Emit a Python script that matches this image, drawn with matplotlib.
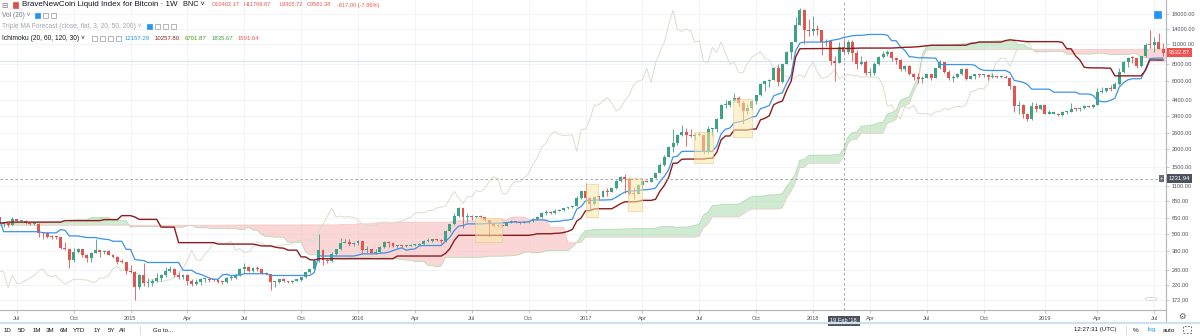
import numpy as np
import pandas as pd
import matplotlib
matplotlib.use("Agg")
import matplotlib.pyplot as plt
import matplotlib.dates as mdates
import matplotlib.transforms as mtransforms
from matplotlib.patches import Rectangle, Circle

plt.rcParams['font.family'] = ['Liberation Sans', 'DejaVu Sans']

# ------------------------------------------------------------------ data
first_week = "2014-06-09"   # weekly candles, Monday starts

opens = [
    655, 590, 595, 580, 635, 620, 620, 595, 585, 590, 510, 505, 480, 478, 475, 400, 390, 330, 375, 390, 355, 340, 370, 385, 375, 378, 355, 345, 320, 318,
    275, 270, 210, 255, 225, 225, 235, 245, 255, 275, 285, 255, 250, 255, 235, 222, 230, 240, 240, 238, 237, 230, 228, 245, 245, 255, 285, 295, 275, 290, 282, 265, 260, 230, 230, 240, 232, 230, 235, 238, 248, 268, 285, 325, 385, 330, 325, 360, 390, 435, 440, 425,
    432, 445, 385, 395, 370, 375, 405, 440, 432, 410, 415, 410, 415, 420, 420, 428, 450, 450, 458, 455, 445, 525, 585, 670, 760, 660, 670, 660, 665, 655, 625, 590, 570, 580, 572, 605, 610, 605, 600, 610, 615, 640, 655, 700, 712, 705, 730, 735, 765, 775, 790, 895,
    1000, 905, 820, 920, 915, 1015, 995, 1050, 1180, 1270, 1230, 965, 960, 1105, 1180, 1170, 1245, 1350, 1550, 1750, 2050, 2200, 2520, 2650, 2520, 2480, 2500, 2510, 1920, 2750, 2750, 3250, 4050, 4100, 4350, 4600, 4200, 3700, 3900, 4380, 4780, 5700, 6000, 6150, 7400, 5900, 8000, 9700, 11300, 15000, 19000, 13900,
    13500, 14000, 13700, 11300, 11600, 8300, 8100, 10402.17, 9581, 11400, 9500, 7900, 8200, 6900, 6900, 8000, 8900, 9300, 9700, 8700, 8500, 7350, 7700, 6770, 6450, 6200, 6350, 6700, 6350, 7400, 8200, 7000, 6300, 6400, 6700, 7300, 6250, 6500, 6700, 6600, 6600, 6400, 6450, 6400, 6450, 6350, 5600, 4000, 4100, 3550, 3250, 4000, 3850,
    4050, 3550, 3550, 3550, 3450, 3650, 3650, 3850, 3800, 3900, 4000, 3950, 4100, 5050, 5150, 5350, 5300, 5700, 7000, 8200, 8750, 8700, 7650, 8990, 10850, 10800, 11450, 10200,
]
highs = [
    668, 610, 600, 655, 640, 630, 625, 600, 595, 600, 520, 520, 490, 485, 480, 440, 395, 400, 400, 395, 360, 375, 460, 385, 385, 385, 360, 350, 335, 320,
    300, 275, 260, 310, 245, 240, 265, 260, 295, 298, 290, 270, 260, 260, 240, 240, 245, 245, 245, 242, 240, 232, 250, 255, 260, 290, 310, 298, 295, 298, 285, 270, 262, 235, 240, 245, 235, 238, 242, 250, 270, 285, 335, 500, 390, 335, 375, 395, 470, 465, 460, 440,
    455, 450, 410, 395, 390, 410, 445, 445, 440, 420, 420, 420, 425, 425, 430, 455, 470, 465, 460, 460, 530, 590, 700, 780, 770, 700, 685, 675, 680, 660, 630, 600, 585, 585, 610, 630, 612, 610, 615, 620, 645, 660, 720, 740, 730, 750, 750, 770, 775, 795, 935, 1000,
    1150, 920, 925, 930, 1030, 1060, 1060, 1210, 1280, 1330, 1260, 1080, 1120, 1210, 1210, 1250, 1360, 1600, 1800, 2100, 2750, 2550, 2950, 2800, 2780, 2600, 2650, 2550, 2900, 2800, 3300, 4150, 4450, 4400, 4950, 4700, 4350, 4150, 4400, 4800, 5850, 6000, 6250, 7600, 7900, 8100, 9800, 11400, 17100, 19700, 19400, 16500,
    17200, 15000, 13800, 11900, 11800, 9000, 11300, 11769.87, 11700, 11700, 9900, 9100, 8500, 7500, 8200, 9000, 9750, 9950, 9750, 8900, 8550, 7800, 7800, 6900, 6850, 6500, 6800, 6800, 7500, 8500, 8250, 7150, 6600, 6850, 7400, 7400, 6600, 6800, 6800, 6750, 6700, 6900, 6500, 6500, 6600, 6400, 5650, 4350, 4150, 3600, 4250, 4200, 4100,
    4100, 3750, 3650, 3600, 3700, 3700, 4200, 3900, 3950, 4050, 4100, 4150, 5350, 5450, 5400, 5650, 5900, 7500, 8350, 8900, 9100, 8800, 9000, 11200, 13800, 12300, 13150, 11100,
]
lows = [
    560, 560, 560, 580, 610, 605, 585, 575, 575, 480, 460, 470, 465, 465, 395, 385, 290, 320, 370, 345, 315, 320, 365, 345, 360, 355, 340, 305, 310, 260,
    265, 170, 205, 215, 210, 215, 230, 235, 250, 270, 250, 240, 240, 220, 215, 218, 220, 230, 230, 232, 225, 222, 225, 238, 240, 252, 265, 270, 272, 275, 260, 255, 200, 210, 225, 228, 225, 225, 232, 235, 245, 265, 283, 320, 300, 310, 315, 355, 385, 430, 415, 415,
    420, 360, 365, 365, 360, 370, 400, 405, 405, 400, 405, 405, 410, 415, 418, 425, 440, 440, 445, 435, 440, 515, 575, 660, 550, 610, 630, 645, 650, 620, 480, 565, 565, 565, 570, 600, 600, 590, 595, 600, 610, 625, 650, 680, 690, 695, 725, 725, 755, 770, 785, 890,
    850, 750, 800, 880, 915, 930, 990, 1045, 1160, 980, 950, 890, 955, 1050, 1160, 1165, 1240, 1340, 1520, 1740, 1900, 2120, 2450, 2100, 2440, 2300, 2480, 1850, 1880, 2450, 2650, 3250, 3900, 3980, 4250, 4000, 3000, 3550, 3850, 4150, 4750, 5100, 5450, 6100, 5600, 5800, 7900, 8600, 11300, 14900, 11000, 12500,
    12800, 12800, 9200, 10600, 7800, 6000, 8100, 9305.72, 9400, 8400, 7300, 7800, 6600, 6550, 6650, 7850, 8700, 9050, 8350, 7950, 7100, 7050, 6650, 6150, 5800, 5800, 6300, 6100, 6300, 7350, 6900, 6100, 5900, 6300, 6650, 6150, 6200, 6200, 6400, 6450, 6150, 6350, 6350, 6300, 6300, 5300, 3650, 3500, 3300, 3150, 3200, 3650, 3750,
    3500, 3500, 3500, 3400, 3400, 3550, 3650, 3700, 3700, 3850, 3950, 3900, 4100, 4950, 5000, 5100, 5250, 5650, 6900, 7600, 8100, 7450, 7550, 8950, 10300, 9700, 10100, 9100,
]
closes = [
    590, 595, 580, 635, 620, 620, 595, 585, 590, 510, 505, 480, 478, 475, 400, 390, 330, 375, 390, 355, 340, 370, 385, 375, 378, 355, 345, 320, 318, 275,
    270, 210, 255, 225, 225, 235, 245, 255, 275, 285, 255, 250, 255, 235, 222, 230, 240, 240, 238, 237, 230, 228, 245, 245, 255, 285, 295, 275, 290, 282, 265, 260, 230, 230, 240, 232, 230, 235, 238, 248, 268, 285, 325, 385, 330, 325, 360, 390, 435, 440, 425, 432,
    445, 385, 395, 370, 375, 405, 440, 432, 410, 415, 410, 415, 420, 420, 428, 450, 450, 458, 455, 445, 525, 585, 670, 760, 660, 670, 660, 665, 655, 625, 590, 570, 580, 572, 605, 610, 605, 600, 610, 615, 640, 655, 700, 712, 705, 730, 735, 765, 775, 790, 895, 1000,
    905, 820, 920, 915, 1015, 995, 1050, 1180, 1270, 1230, 965, 960, 1105, 1180, 1170, 1245, 1350, 1550, 1750, 2050, 2200, 2520, 2650, 2520, 2480, 2500, 2510, 1920, 2750, 2750, 3250, 4050, 4100, 4350, 4600, 4200, 3700, 3900, 4380, 4780, 5700, 6000, 6150, 7400, 5900, 8000, 9700, 11300, 15000, 19000, 13900, 13500,
    14000, 13700, 11300, 11600, 8300, 8100, 10398.38, 9581.38, 11400, 9500, 7900, 8200, 6900, 6900, 8000, 8900, 9300, 9700, 8700, 8500, 7350, 7700, 6770, 6450, 6200, 6350, 6700, 6350, 7400, 8200, 7000, 6300, 6400, 6700, 7300, 6250, 6500, 6700, 6600, 6600, 6400, 6450, 6400, 6450, 6350, 5600, 4000, 4100, 3550, 3250, 4000, 3850, 4050,
    3550, 3550, 3550, 3450, 3650, 3650, 3850, 3800, 3900, 4000, 3950, 4100, 5050, 5150, 5350, 5300, 5700, 7000, 8200, 8750, 8700, 7650, 8990, 10850, 10800, 11450, 10200, 9532.87,
]

# monthly high / low before the visible window (only feeds the Ichimoku look-back)
pre_first_month = "2011-07"
pre_high = [15.7, 13.8, 8.9, 5.2, 3.5, 4.9,
            7.3, 6.5, 5.5, 5.3, 5.2, 6.7, 9.3, 16.0, 12.7, 12.7, 12.9, 13.8,
            21.0, 31.5, 95, 266, 140, 130, 110, 130, 140, 210, 1150, 1100,
            950, 700, 700, 540, 630, 680]
pre_low = [12.5, 7.2, 4.5, 2.3, 2.0, 2.8,
           4.2, 4.3, 4.6, 4.7, 4.9, 5.2, 6.4, 7.8, 10.0, 10.5, 10.5, 12.3,
           13.0, 19.5, 33, 50, 80, 88, 65, 95, 95, 115, 200, 450,
           750, 420, 440, 340, 430, 640]

ichimoku_params = (20, 60, 120, 30)
price_ticks = [18000, 14000, 11000, 8000, 6000, 4400, 3400, 2600, 2000, 1500,
               1100, 850, 650, 500, 380, 280, 220, 172]
# drawn highlight rectangles: (start date, end date, low price, high price)
box_start = ["2016-07-09", "2017-01-03", "2017-03-11", "2017-06-25", "2017-08-26"]
box_end = ["2016-08-21", "2017-01-22", "2017-04-02", "2017-07-25", "2017-09-25"]
box_low = [440, 660, 725, 1588, 2424]
box_high = [649, 1129, 1240, 2628, 4497]
hline_price = 8400
cross_date = "2018-02-19"
cross_price = 1231.94
last_price = 9532.87

# ------------------------------------------------------------------ figure
W, H = 1200, 336
fig = plt.figure(figsize=(W / 100, H / 100), dpi=100)
fig.patch.set_facecolor('white')

PLOT_R, PLOT_B = 1166, 310
ax = fig.add_axes([0, 1 - PLOT_B / H, PLOT_R / W, PLOT_B / H])
ax.set_facecolor('white')
ax.set_yscale('log')
ax.set_ylim(145.5, 22490)
px_per_day = 0.625
x0 = mdates.date2num(pd.Timestamp('2015-01-01')) - 128 / px_per_day
ax.set_xlim(x0, x0 + PLOT_R / px_per_day)

dates = pd.date_range(first_week, periods=len(closes), freq='W-MON')
o = np.array(opens, float); h = np.array(highs, float)
l = np.array(lows, float); c = np.array(closes, float)

# Ichimoku
conv_len, base_len, spanb_len, disp = ichimoku_params
pre_months = pd.period_range(pre_first_month, periods=len(pre_high), freq='M')
pre_weeks = pd.date_range(pre_months[0].start_time, dates[0] - pd.Timedelta(days=1), freq='W-MON')
midx = {p: i for i, p in enumerate(pre_months)}
pre_h = [pre_high[midx[d.to_period('M')]] for d in pre_weeks]
pre_l = [pre_low[midx[d.to_period('M')]] for d in pre_weeks]
all_dates = pre_weeks.append(dates)
hi = pd.Series(pre_h + list(h))
lo = pd.Series(pre_l + list(l))
def donchian(n):
    return (hi.rolling(n).max() + lo.rolling(n).min()) / 2
conv = donchian(conv_len)
base = donchian(base_len)
spanA = ((conv + base) / 2).values
spanB = donchian(spanb_len).values
off = pd.Timedelta(weeks=disp - 1)
x_all = mdates.date2num(all_dates)
x_lead = mdates.date2num(all_dates + off)
x_lag = mdates.date2num(dates - off)

# axes / grid
qt = []
for d in dates:
    if d.month in (1, 4, 7, 10):
        key = (d.year, d.month)
        if not qt or qt[-1][0] != key:
            qt.append((key, d))
xt = [mdates.date2num(d) for _, d in qt]
xl = [str(k[0]) if k[1] == 1 else {4: 'Apr', 7: 'Jul', 10: 'Oct'}[k[1]] for k, _ in qt]
ax.set_xticks(xt)
ax.set_xticklabels(xl)
ax.yaxis.tick_right()
ax.yaxis.set_minor_locator(matplotlib.ticker.NullLocator())
ax.set_yticks(price_ticks)
ax.set_yticklabels([f"{v:.2f}" for v in price_ticks])
ax.grid(True, color='#f0f3f7', lw=0.6, zorder=0)
ax.set_axisbelow(True)
ax.tick_params(axis='y', which='both', labelsize=4.1, colors='#50535e', length=2.5, pad=1.5,
               width=0.5, color='#b2b5be', right=True, left=False, labelright=True, labelleft=False)
ax.tick_params(axis='x', labelsize=4.1, colors='#50535e', length=2, pad=2.5, width=0.5, color='#b2b5be')
for s in ('top', 'left'):
    ax.spines[s].set_visible(False)
ax.spines['right'].set_color('#b2b5be'); ax.spines['right'].set_linewidth(0.8)
ax.spines['bottom'].set_color('#b2b5be'); ax.spines['bottom'].set_linewidth(0.8)

# cloud
ax.fill_between(x_lead, spanA, spanB, where=spanA >= spanB, interpolate=True,
                color='#a5d6a7', alpha=0.5, lw=0, zorder=1)
ax.fill_between(x_lead, spanA, spanB, where=spanA < spanB, interpolate=True,
                color='#f7b5b5', alpha=0.55, lw=0, zorder=1)
ax.plot(x_lead, spanA, color='#8fcf93', lw=0.5, alpha=0.7, zorder=1.2)
ax.plot(x_lead, spanB, color='#f4a3a3', lw=0.5, alpha=0.5, zorder=1.2)

# lagging span
ax.plot(x_lag, c, color='#d9dfcd', lw=0.7, zorder=2)

# horizontal drawn line
ax.axhline(hline_price, color='#d3e3ef', lw=0.7, zorder=2)

# candles
xc = mdates.date2num(dates)
up = c >= o
col = np.where(up, '#3fa284', '#e4544f')
ax.vlines(xc, l, h, colors=col, lw=0.6, zorder=3)
bot = np.minimum(o, c)
top = np.maximum(np.maximum(o, c), bot * 1.017)
ax.bar(xc, top - bot, bottom=bot, width=4.8, color=col, lw=0, zorder=3.1)

# conversion / base lines
ax.plot(x_all, conv.values, color='#3d93e6', lw=0.9, zorder=4)
ax.plot(x_all, base.values, color='#8e1c1f', lw=1.0, zorder=4)

# highlight boxes
for s, e, lb, hb in zip(box_start, box_end, box_low, box_high):
    xs = mdates.date2num(pd.Timestamp(s)); xe = mdates.date2num(pd.Timestamp(e))
    ax.add_patch(Rectangle((xs, lb), xe - xs, hb - lb, fc='#fce9a8', ec='#eec47a',
                           lw=0.7, alpha=0.55, zorder=5))

# crosshair
xcr = mdates.date2num(pd.Timestamp(cross_date))
ax.axvline(xcr, color='#9598a1', lw=0.6, ls=(0, (3, 3)), zorder=6)
ax.axhline(cross_price, color='#9598a1', lw=0.6, ls=(0, (3, 3)), zorder=6)

# ------------------------------------------------------------------ overlay texts
def fx(x): return x / W
def fy(y): return 1 - y / H
def ftext(x, y, s, size=4.6, color='#131722', ha='left', **kw):
    fig.text(fx(x), fy(y), s, fontsize=size, color=color, ha=ha, va='center', **kw)
def fbox(x, y, w, hh, fc, ec, lw=0.5):
    fig.patches.append(Rectangle((fx(x), fy(y + hh)), w / W, hh / H, transform=fig.transFigure,
                                 fc=fc, ec=ec, lw=lw, zorder=10))

# price tags on the right axis
bt = mtransforms.blended_transform_factory(fig.transFigure, ax.transData)
ax.text(fx(1169), last_price, f"{last_price:.2f}", transform=bt, fontsize=4.2, color='white',
        va='center', ha='left', clip_on=False, zorder=12,
        bbox=dict(boxstyle='square,pad=0.35', fc='#ef5350', ec='none'))
ax.text(fx(1169), cross_price, f"{cross_price:.2f}", transform=bt, fontsize=4.2, color='white',
        va='center', ha='left', clip_on=False, zorder=12,
        bbox=dict(boxstyle='square,pad=0.35', fc='#4c525e', ec='none'))
ax.text(fx(1161.5), cross_price, "+", transform=bt, fontsize=4.2, color='white',
        va='center', ha='center', clip_on=False, zorder=12,
        bbox=dict(boxstyle='square,pad=0.2', fc='#6a6d78', ec='none'))
# crosshair date tag
ax.text(xcr, -0.035, "19 Feb '18", transform=mtransforms.blended_transform_factory(ax.transData, ax.transAxes),
        fontsize=4.1, color='white', ha='center', va='center', clip_on=False, zorder=12,
        bbox=dict(boxstyle='square,pad=0.45', fc='#4c525e', ec='none'))

# header line 1
ftext(4.5, 5, "⊟", 5.5, '#787b86', ha='center', family='DejaVu Sans')
fbox(12.5, 2, 5, 5.5, '#e0504a', '#e0504a')
ftext(22, 5, "BraveNewCoin Liquid Index for Bitcoin · 1W", 5.8, '#131722')
ftext(183, 5, "BNC ˅", 5.2, '#131722')
red = '#ef5350'
for xx, s in [(212, "O10402.17"), (244, "H11769.87"), (280, "L9305.72"),
              (307, "C9581.38"), (337, "-817.00 (-7.86%)")]:
    ftext(xx, 5, s, 4.1, red)
# header line 2
ftext(2, 15.5, "Vol (20) ˅", 4.8, '#787b86')
fbox(35, 13, 5, 5, '#2196f3', '#2196f3')
fbox(43, 13, 5, 5, 'white', '#9598a1')
fbox(51, 13, 5, 5, 'white', '#9598a1')
# header line 3
ftext(2, 26, "Triple MA Forecast (close, flat, 3, 20, 50, 200) ˅", 4.8, '#a3a6af')
fbox(147, 23.5, 5, 5, '#2196f3', '#2196f3')
for xx in (155, 163, 171):
    fbox(xx, 23.5, 5, 5, 'white', '#9598a1')
# header line 4
ftext(2, 38, "Ichimoku (20, 60, 120, 30) ˅", 4.8, '#131722')
for xx in (92, 100, 108, 116):
    fbox(xx, 35.5, 5, 5, 'white', '#9598a1')
for xx, s, cc in [(125, "12157.29", '#2196f3'), (155, "10257.80", '#8e1c1f'),
                  (185, "6701.87", '#459915'), (212, "1835.67", '#43a047'),
                  (238, "1591.64", '#ff5252')]:
    ftext(xx, 38, s, 4.3, cc)

# little chart icons
fbox(1154, 11.5, 6.5, 6.5, '#2196f3', '#2196f3')
fig.patches.append(Circle((fx(1151), fy(299)), 6 / W, transform=fig.transFigure,
                          fc='white', ec='#d1d4dc', lw=0.6, zorder=10))
ftext(1151, 299, "»", 5, '#787b86', ha='center')

# right axis separator continues into time scale, bottom bar
fig.add_artist(plt.Line2D([fx(PLOT_R), fx(PLOT_R)], [fy(PLOT_B), fy(322)], color='#b2b5be', lw=0.8))
fig.add_artist(plt.Line2D([0, 1], [fy(323), fy(323)], color='#cfe1f1', lw=1.6))
ftext(1182, 316.5, "⚙", 6, '#50535e', ha='center', family='DejaVu Sans')

# bottom toolbar
for xx, s in [(4, "1D"), (18, "5D"), (33, "1M"), (46, "3M"), (60, "6M"), (73, "YTD"),
              (94, "1Y"), (108, "5Y"), (119, "All")]:
    ftext(xx, 330, s, 4.4, '#131722')
fig.add_artist(plt.Line2D([fx(140), fx(140)], [fy(326), fy(334)], color='#d1d4dc', lw=0.6))
ftext(153, 330, "Go to...", 4.4, '#131722')
ftext(1117, 330, "12:27:31 (UTC)", 4.4, '#131722', ha='right')
fig.add_artist(plt.Line2D([fx(1126), fx(1126)], [fy(326), fy(334)], color='#d1d4dc', lw=0.6))
ftext(1136, 330, "%", 4.6, '#131722', ha='center')
ftext(1152, 330, "log", 4.6, '#2196f3', ha='center')
ftext(1169, 330, "auto", 4.6, '#131722', ha='center')
fig.patches.append(Rectangle((fx(1183), fy(333)), 8 / W, 7 / H, transform=fig.transFigure,
                             fc='none', ec='#50535e', lw=0.6, ls=(0, (2, 2)), zorder=10))

fig.savefig("out.png", dpi=100, facecolor='white')
